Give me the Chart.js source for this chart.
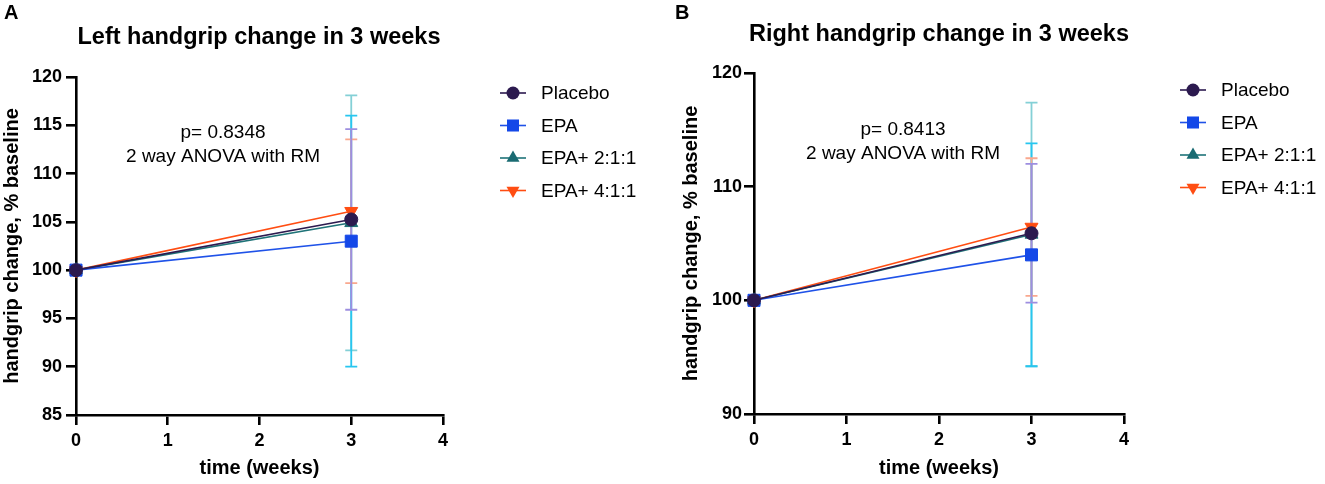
<!DOCTYPE html>
<html>
<head>
<meta charset="utf-8">
<script src="https://cdn.jsdelivr.net/npm/chart.js@4.4.0/dist/chart.umd.min.js"></script>
<style>
  html, body { margin: 0; padding: 0; background: #fff; }
  #wrap { position: relative; width: 1325px; height: 484px; }
  canvas { position: absolute; top: 0; }
</style>
</head>
<body>
<div id="wrap">
  <canvas id="chartA" width="662" height="484" style="left:0"></canvas>
  <canvas id="chartB" width="663" height="484" style="left:662px"></canvas>
</div>
<script>
// data (mean and SD, % of baseline)
const weeks = [0, 3];
const groups = ["Placebo", "EPA", "EPA+ 2:1:1", "EPA+ 4:1:1"];

const leftPlacebo = [100, 105.25];
const leftEpa = [100, 103.0];
const leftEpa211 = [100, 104.9];
const leftEpa411 = [100, 106.1];
const leftPlaceboSd = [0, 9.35];
const leftEpaSd = [0, 13.0];
const leftEpa211Sd = [0, 13.2];
const leftEpa411Sd = [0, 7.45];

const rightPlacebo = [100, 105.9];
const rightEpa = [100, 104.0];
const rightEpa211 = [100, 105.8];
const rightEpa411 = [100, 106.45];
const rightPlaceboSd = [0, 6.1];
const rightEpaSd = [0, 9.8];
const rightEpa211Sd = [0, 11.6];
const rightEpa411Sd = [0, 6.05];

const FONT = "'Liberation Sans', Arial, sans-serif";

const lineColors = ["#2c1a4f", "#1f52e8", "#1f7378", "#ff4d12"];
const markColors = ["#2c1a4f", "#1448e8", "#1a6b72", "#ff4d12"];
const errColors = ["#9d8ee0", "#27c6f0", "#84d0d6", "#f9a88e"];
const markStyles = ["circle", "rect", "triangle", "triangle"];
const markRadius = [6.5, 8.5, 7.5, 7.5];
const markRotation = [0, 0, 0, 180];

function makeDatasets(means, sds) {
  return means.map((m, i) => ({
    label: groups[i],
    data: weeks.map((w, j) => ({ x: w, y: m[j] })),
    sd: sds[i],
    borderColor: lineColors[i],
    borderWidth: 1.6,
    backgroundColor: markColors[i],
    pointBackgroundColor: markColors[i],
    pointBorderColor: markColors[i],
    pointBorderWidth: 1,
    pointStyle: markStyles[i],
    pointRadius: markRadius[i],
    pointRotation: markRotation[i],
    pointHoverRadius: markRadius[i],
    tension: 0,
    clip: false
  }));
}

// error bars drawn under the markers, widest first
const errorBars = {
  id: "errorBars",
  beforeDatasetsDraw(chart) {
    const { ctx, scales: { x, y } } = chart;
    const order = [2, 1, 3, 0];
    ctx.save();
    order.forEach(i => {
      const ds = chart.data.datasets[i];
      ds.data.forEach((p, j) => {
        const sd = ds.sd[j];
        if (!sd) return;
        const px = x.getPixelForValue(p.x);
        const top = y.getPixelForValue(p.y + sd);
        const bot = y.getPixelForValue(p.y - sd);
        ctx.strokeStyle = errColors[i];
        ctx.lineWidth = 1.8;
        ctx.beginPath();
        ctx.moveTo(px, top); ctx.lineTo(px, bot);
        ctx.moveTo(px - 6, top); ctx.lineTo(px + 6, top);
        ctx.moveTo(px - 6, bot); ctx.lineTo(px + 6, bot);
        ctx.stroke();
      });
    });
    ctx.restore();
  }
};

function drawMark(ctx, style, rot, r, cx, cy, color) {
  ctx.fillStyle = color;
  ctx.beginPath();
  if (style === "circle") {
    ctx.arc(cx, cy, r, 0, Math.PI * 2);
  } else if (style === "rect") {
    const s = r * Math.SQRT1_2;
    ctx.rect(cx - s, cy - s, 2 * s, 2 * s);
  } else {
    const d = rot ? -1 : 1;
    ctx.moveTo(cx, cy - d * r);
    ctx.lineTo(cx + r * 0.866, cy + d * r * 0.5);
    ctx.lineTo(cx - r * 0.866, cy + d * r * 0.5);
    ctx.closePath();
  }
  ctx.fill();
}

// panel letter, title, stats note and legend
const decorations = {
  id: "decorations",
  afterDraw(chart, args, o) {
    const ctx = chart.ctx;
    ctx.save();
    ctx.fillStyle = "#000";
    ctx.textBaseline = "alphabetic";
    ctx.textAlign = "left";
    ctx.font = "bold 20px " + FONT;
    ctx.fillText(o.letter, o.letterX, 19);

    ctx.textAlign = "center";
    ctx.font = "bold 23.5px " + FONT;
    ctx.fillText(o.title, o.titleX, o.titleY);

    ctx.font = "19px " + FONT;
    ctx.fillText(o.note[0], o.noteX, o.noteY);
    ctx.fillText(o.note[1], o.noteX, o.noteY + 24);

    ctx.textAlign = "left";
    ctx.textBaseline = "middle";
    groups.forEach((g, i) => {
      const cy = o.legendY + i * 32.5;
      ctx.strokeStyle = lineColors[i];
      ctx.lineWidth = 1.6;
      ctx.beginPath();
      ctx.moveTo(o.legendX - 13, cy); ctx.lineTo(o.legendX + 13, cy);
      ctx.stroke();
      drawMark(ctx, markStyles[i], markRotation[i], markRadius[i], o.legendX, cy, markColors[i]);
      ctx.fillStyle = "#000";
      ctx.font = "19px " + FONT;
      ctx.fillText(g, o.legendX + 28, cy + 1);
    });
    ctx.restore();
  }
};

function axisFont(size) {
  return { family: FONT, size: size, weight: "bold" };
}

function buildChart(id, means, sds, cfg) {
  new Chart(document.getElementById(id), {
    type: "line",
    data: { datasets: makeDatasets(means, sds) },
    options: {
      responsive: false,
      animation: false,
      events: [],
      layout: { padding: { left: 0, top: cfg.top, right: cfg.right, bottom: 0 } },
      plugins: {
        legend: { display: false },
        tooltip: { enabled: false },
        decorations: cfg.deco
      },
      scales: {
        x: {
          type: "linear",
          min: 0,
          max: 4,
          ticks: { stepSize: 1, color: "#000", font: axisFont(18), padding: 5 },
          grid: { display: true, drawOnChartArea: false, drawTicks: true, tickLength: 10, color: "#000", lineWidth: 2.6 },
          border: { display: true, color: "#000", width: 2.6 },
          title: { display: true, text: "time (weeks)", color: "#000", font: axisFont(20), padding: { top: 0, bottom: 4 } },
          afterFit: s => { s.height = cfg.xHeight; }
        },
        y: {
          min: cfg.yMin,
          max: cfg.yMax,
          ticks: { stepSize: cfg.yStep, color: "#000", font: axisFont(18), padding: cfg.yPad },
          grid: { display: true, drawOnChartArea: false, drawTicks: true, tickLength: 10, color: "#000", lineWidth: 2.6 },
          border: { display: true, color: "#000", width: 2.6 },
          title: { display: true, text: "handgrip change, % baseline", color: "#000", font: axisFont(20), padding: { top: cfg.yTitlePad, bottom: 0 } },
          afterFit: s => { s.width = cfg.yWidth; }
        }
      }
    },
    plugins: [errorBars, decorations]
  });
}

buildChart("chartA",
  [leftPlacebo, leftEpa, leftEpa211, leftEpa411],
  [leftPlaceboSd, leftEpaSd, leftEpa211Sd, leftEpa411Sd],
  {
    top: 77, right: 219, xHeight: 69, yWidth: 76, yPad: 4, yTitlePad: 0,
    yMin: 85, yMax: 120, yStep: 5,
    deco: {
      letter: "A", letterX: 4,
      title: "Left handgrip change in 3 weeks", titleX: 259, titleY: 44,
      note: ["p= 0.8348", "2 way ANOVA with RM"], noteX: 223, noteY: 138,
      legendX: 513, legendY: 93
    }
  });

buildChart("chartB",
  [rightPlacebo, rightEpa, rightEpa211, rightEpa411],
  [rightPlaceboSd, rightEpaSd, rightEpa211Sd, rightEpa411Sd],
  {
    top: 73, right: 201, xHeight: 70, yWidth: 92, yPad: 2, yTitlePad: 17,
    yMin: 90, yMax: 120, yStep: 10,
    deco: {
      letter: "B", letterX: 13,
      title: "Right handgrip change in 3 weeks", titleX: 277, titleY: 41,
      note: ["p= 0.8413", "2 way ANOVA with RM"], noteX: 241, noteY: 135,
      legendX: 531, legendY: 90
    }
  });
</script>
</body>
</html>
